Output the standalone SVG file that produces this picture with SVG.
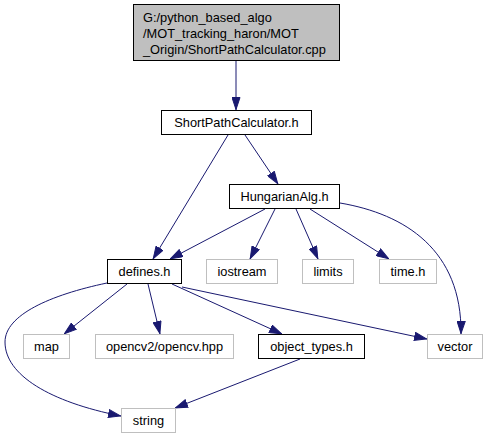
<svg xmlns="http://www.w3.org/2000/svg" width="489" height="440" viewBox="0 0 489 440">
<style>
text{font-family:"Liberation Sans",Arial,sans-serif;font-size:12.8px;fill:#000}
.c{text-anchor:middle}
.k rect{fill:#fff;stroke:#000;stroke-width:1}
.g rect{fill:#fff;stroke:#bfbfbf;stroke-width:1}
.e path{fill:none;stroke:#191970;stroke-width:1;marker-end:url(#a)}
</style>
<defs>
<marker id="a" markerUnits="userSpaceOnUse" viewBox="0 0 13 9" refX="13" refY="4.5" markerWidth="13" markerHeight="9" orient="auto">
<path d="M0.5,0.5 L12.5,4.5 L0.5,8.5 Z" fill="#191970" stroke="#191970"/>
</marker>
</defs>
<rect width="489" height="440" fill="#fff"/>
<g class="e" id="edges">
<path d="M236,61 L236,110"/>
<path d="M228,135 L153,259"/>
<path d="M245,135 L278,184"/>
<path d="M265,209 L170,259"/>
<path d="M275,209 L250,259"/>
<path d="M296,209 L318,259"/>
<path d="M310,209 L389,259"/>
<path d="M340,203 C405,214 462,250 461,334"/>
<path d="M127,284 L64,334"/>
<path d="M148,284 L160,334"/>
<path d="M172,284 L282,334"/>
<path d="M182,287 L427,339"/>
<path d="M107,283 C50,295 5,315 5,342 C5,375 50,402 121,416"/>
<path d="M300,359 L175,408"/>
</g>
<g id="n_cpp">
<rect x="133.5" y="4.5" width="206" height="56" fill="#bfbfbf" stroke="#000"/>
<text x="143" y="22">G:/python_based_algo</text>
<text x="143" y="38">/MOT_tracking_haron/MOT</text>
<text x="143" y="54">_Origin/ShortPathCalculator.cpp</text>
</g>
<g id="n_sp" class="k"><rect x="161.5" y="110.5" width="150" height="24"/><text class="c" x="236.5" y="127">ShortPathCalculator.h</text></g>
<g id="n_hung" class="k"><rect x="229.5" y="184.5" width="110" height="24"/><text class="c" x="284.5" y="201">HungarianAlg.h</text></g>
<g id="n_def" class="k"><rect x="107.5" y="259.5" width="74" height="24"/><text class="c" x="144.5" y="276">defines.h</text></g>
<g id="n_io" class="g"><rect x="206.5" y="259.5" width="71" height="24"/><text class="c" x="242" y="276">iostream</text></g>
<g id="n_lim" class="g"><rect x="302.5" y="259.5" width="51" height="24"/><text class="c" x="328" y="276">limits</text></g>
<g id="n_time" class="g"><rect x="379.5" y="259.5" width="57" height="24"/><text class="c" x="408" y="276">time.h</text></g>
<g id="n_map" class="g"><rect x="23.5" y="334.5" width="46" height="24"/><text class="c" x="46.5" y="351">map</text></g>
<g id="n_cv" class="g"><rect x="95.5" y="334.5" width="138" height="24"/><text class="c" x="164.5" y="351">opencv2/opencv.hpp</text></g>
<g id="n_obj" class="k"><rect x="258.5" y="334.5" width="106" height="24"/><text class="c" x="311.5" y="351">object_types.h</text></g>
<g id="n_vec" class="g"><rect x="427.5" y="334.5" width="55" height="24"/><text class="c" x="455" y="351">vector</text></g>
<g id="n_str" class="g"><rect x="121.5" y="408.5" width="54" height="24"/><text class="c" x="148.5" y="425">string</text></g>
</svg>
